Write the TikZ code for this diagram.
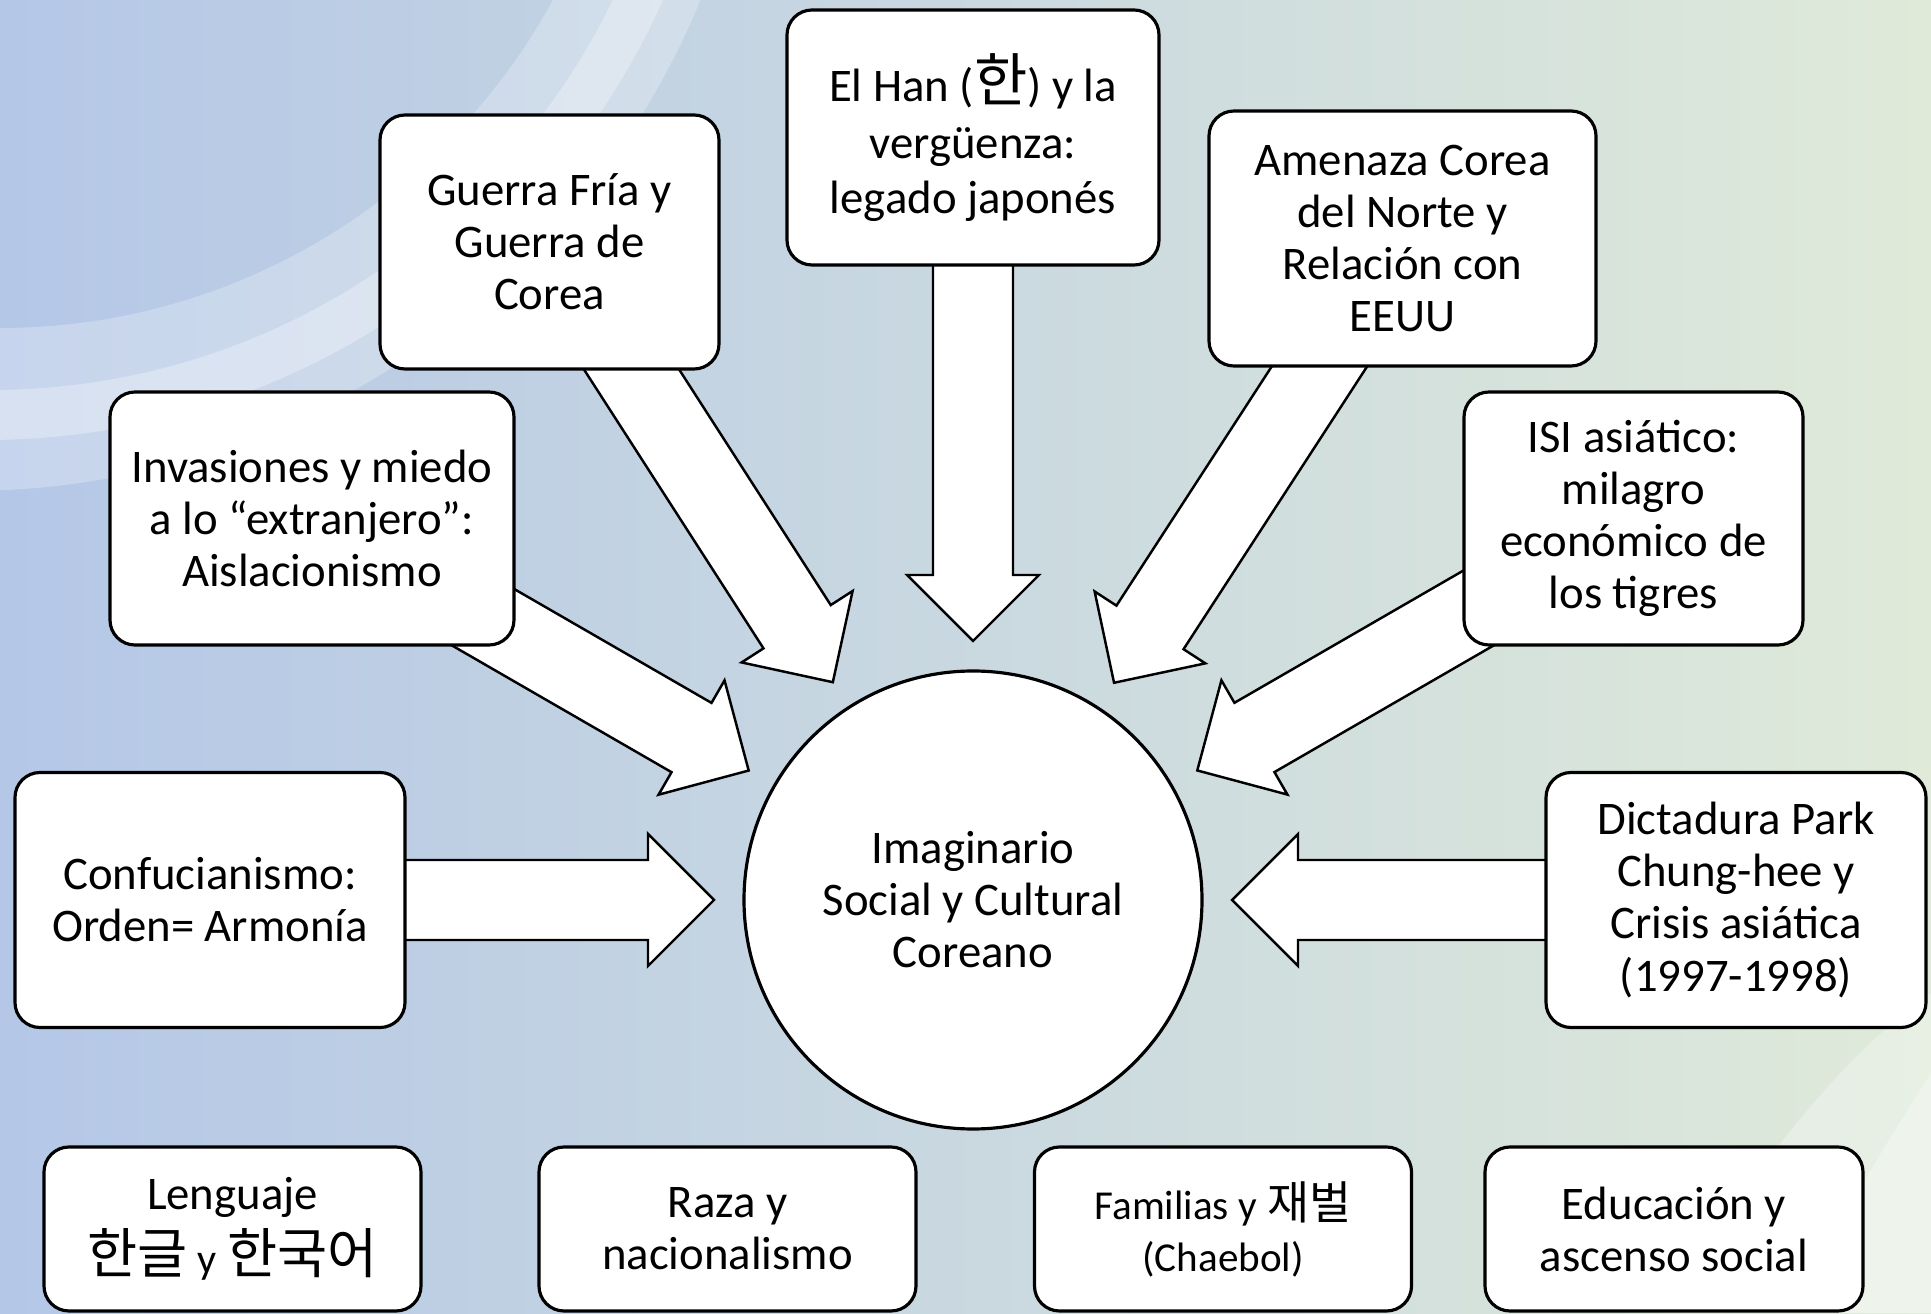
\documentclass[tikz,border=0pt]{standalone}
\usepackage{fontspec}
\setmainfont{Carlito}
\newfontfamily\kor{Noto Sans CJK KR}
\usetikzlibrary{calc}
\usetikzlibrary{backgrounds}
\definecolor{fondoIzq}{RGB}{180,199,231}
\definecolor{fondoMed}{RGB}{199,215,226}
\definecolor{fondoDer}{RGB}{223,234,217}

% flecha ancha desde el centro de una caja hacia el circulo
\newcommand{\flechagorda}[2]{%
  \coordinate (punta) at ($(#2.center)!2.59cm!(#1.center)$);
  \coordinate (cuello) at ($(punta)!0.66cm!(#1.center)$);
  \draw[flecha] ($(#1.center)!0.40cm!90:(#2.center)$) -- ($(cuello)!0.40cm!90:(#2.center)$)
    -- ($(cuello)!0.66cm!90:(#2.center)$) -- (punta)
    -- ($(cuello)!0.66cm!-90:(#2.center)$) -- ($(cuello)!0.40cm!-90:(#2.center)$)
    -- ($(#1.center)!0.40cm!-90:(#2.center)$) -- cycle;
}

\begin{document}
\begin{tikzpicture}[
			caja/.style={rectangle, draw, fill=white, rounded corners=0.25cm, line width=0.9pt, align=center, font=\fontsize{13.3}{14.8}\selectfont},
			nucleo/.style={circle, draw, fill=white, line width=0.9pt, minimum size=4.58cm, align=center, font=\fontsize{13.3}{14.8}\selectfont},
			flecha/.style={draw=black, fill=white, line width=0.7pt, line join=miter}
		]
			\useasboundingbox (0,0) rectangle (19.31,13.13);

			% Centro
			\node[nucleo] (imaginario) at (9.73,4.13) {Imaginario\\Social y Cultural\\Coreano};

			% Cajas de arriba
			\node[caja, minimum width=3.39cm, minimum height=2.54cm] (guerra) at (5.495,10.71) {Guerra Fría y\\Guerra de\\Corea};
			\node[caja, minimum width=3.72cm, minimum height=2.55cm] (han) at (9.73,11.755) {El Han ({\kor\fontsize{16.5}{14.8}\selectfont 한}) y la\\[0.05cm]vergüenza:\\[0.03cm]legado japonés};
			\node[caja, minimum width=3.87cm, minimum height=2.55cm] (amenaza) at (14.025,10.745) {Amenaza Corea\\del Norte y\\Relación con\\EEUU};
			\node[caja, minimum width=4.04cm, minimum height=2.53cm] (invasiones) at (3.12,7.945) {Invasiones y miedo\\a lo “extranjero”:\\Aislacionismo};
			\node[caja, minimum width=3.39cm, minimum height=2.53cm] (isi) at (16.335,7.945) {ISI asiático:\\milagro\\económico de\\los tigres};
			\node[caja, minimum width=3.90cm, minimum height=2.55cm] (confucio) at (2.10,4.13) {Confucianismo:\\Orden= Armonía};
			\node[caja, minimum width=3.80cm, minimum height=2.55cm] (dictadura) at (17.36,4.13) {Dictadura Park\\Chung-hee y\\Crisis asiática\\(1997-1998)};

			% Cajas de abajo
			\node[caja, minimum width=3.77cm, minimum height=1.64cm] (lenguaje) at (2.325,0.84) {Lenguaje\\[0.08cm]{\kor\fontsize{15.5}{16}\selectfont 한글} {\fontsize{12}{14}\selectfont y} {\kor\fontsize{15.5}{16}\selectfont 한국어}};
			\node[caja, minimum width=3.77cm, minimum height=1.64cm] (raza) at (7.275,0.84) {Raza y\\nacionalismo};
			\node[caja, minimum width=3.77cm, minimum height=1.64cm] (familias) at (12.23,0.84) {{\fontsize{11.7}{14}\selectfont Familias y} {\kor\fontsize{13}{14}\selectfont 재벌}\\{\fontsize{11.7}{14}\selectfont (Chaebol)}};
			\node[caja, minimum width=3.78cm, minimum height=1.64cm] (educacion) at (16.74,0.84) {Educación y\\ascenso social};

			% Fondo y flechas
			\begin{scope}[on background layer]
				\shade[left color=fondoIzq, middle color=fondoMed, right color=fondoDer] (0,0) rectangle (19.31,13.13);
				\begin{scope}
					\clip (0,0) rectangle (19.31,13.13);
					\fill[white, opacity=0.25, even odd rule] (-0.33,16.15) circle (7.93) (0,16.15) circle (6.30);
					\fill[white, opacity=0.3, even odd rule] (-0.15,16.15) circle (7.42) (-0.1,16.15) circle (6.92);
					\fill[white, opacity=0.3] (19.31,3.2) .. controls (18.3,2.5) and (17.4,1.2) .. (16.6,0) -- (19.31,0) -- cycle;
					\fill[white, opacity=0.3] (19.31,2.4) .. controls (18.8,1.6) and (18.3,0.8) .. (18.0,0) -- (19.31,0) -- cycle;
				\end{scope}
				\flechagorda{han}{imaginario}
				\flechagorda{guerra}{imaginario}
				\flechagorda{amenaza}{imaginario}
				\flechagorda{invasiones}{imaginario}
				\flechagorda{isi}{imaginario}
				\flechagorda{confucio}{imaginario}
				\flechagorda{dictadura}{imaginario}
			\end{scope}
		\end{tikzpicture}
\end{document}
